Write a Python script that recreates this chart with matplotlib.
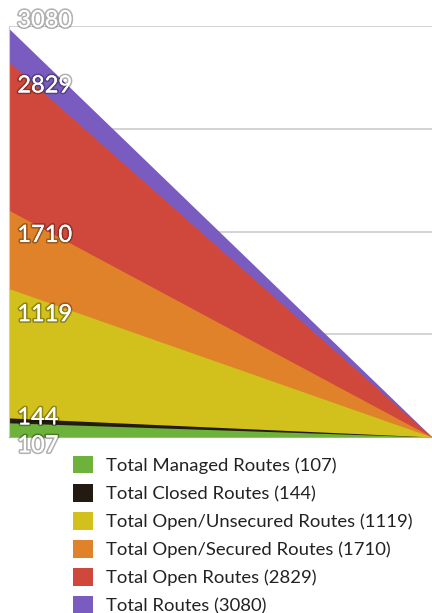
import matplotlib
matplotlib.use("Agg")
import matplotlib.pyplot as plt
import matplotlib.patheffects as pe
from matplotlib.patches import Patch

# series, drawn back to front
names = ["Total Routes", "Total Open Routes", "Total Open/Secured Routes",
         "Total Open/Unsecured Routes", "Total Closed Routes", "Total Managed Routes"]
values = [3080, 2829, 1710, 1119, 144, 107]
colors = ["#7a5cc0", "#d0483c", "#e0822a", "#d2c01c", "#231a12", "#6db23a"]
# label vertical nudge in pixels (negative = up)
label_dy = [-8, 24, 25, 26, 0, 23]

x = [0, 1]

fig = plt.figure(figsize=(4.32, 6.13), dpi=100)
ax = fig.add_axes([9 / 432, 1 - 437 / 613, 423 / 432, 411 / 613])

for name, v, c in zip(names, values, colors):
    ax.fill_between(x, [v, 0], 0, color=c, linewidth=0, zorder=2)

ax.set_xlim(0, 1)
ax.set_ylim(0, 3100)
ax.set_yticks([0, 775, 1550, 2325, 3100])
ax.grid(axis="y", color="#cccccc", linewidth=1.2, zorder=0)
ax.set_xticks([])
ax.tick_params(left=False, labelleft=False)
for s in ["top", "right"]:
    ax.spines[s].set_visible(False)
ax.spines["left"].set_color("#cccccc")
ax.spines["bottom"].set_color("#b8a88a")

shadow = [pe.withStroke(linewidth=2.5, foreground=(0, 0, 0, 0.3)), pe.Normal()]
for v, dy in zip(values, label_dy):
    ax.annotate(str(v), xy=(0, v), xytext=(6, -dy * 0.72), textcoords="offset points",
                ha="left", va="center", fontsize=17, color="white",
                family="Lato", path_effects=shadow, zorder=5, annotation_clip=False)

handles = [Patch(facecolor=c, edgecolor="none") for c in colors[::-1]]
labels = [f"{n} ({v})" for n, v in zip(names[::-1], values[::-1])]
fig.legend(handles, labels, loc="upper left", bbox_to_anchor=(73 / 432, 1 - 456 / 613),
           frameon=False, prop={"family": "Lato", "size": 13.3},
           handlelength=1.08, handleheight=1.08, handletextpad=0.7,
           labelspacing=0.54, borderpad=0, borderaxespad=0, labelcolor="#222222")

fig.savefig("out.png", dpi=100)
